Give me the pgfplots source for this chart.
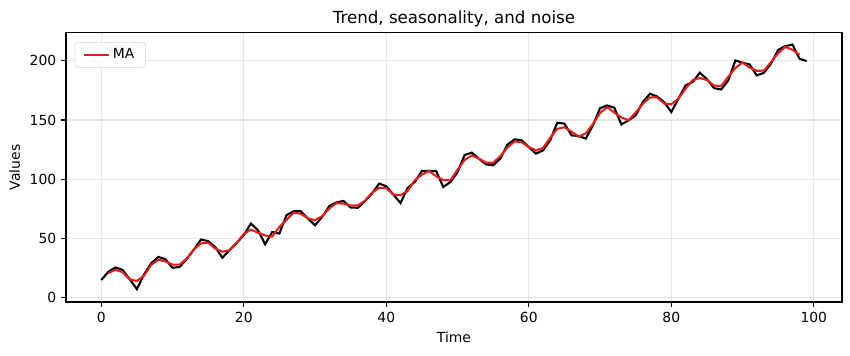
\documentclass[border=0pt]{standalone}
\usepackage{pgfplots}
\pgfplotsset{compat=1.18}
\usepackage{fontspec}
\setmainfont{DejaVu Sans}
\definecolor{mared}{RGB}{225,30,30}
\definecolor{gridc}{RGB}{230,230,230}
\begin{document}
\fontsize{10pt}{12pt}\selectfont
\begin{tikzpicture}
\path[use as bounding box] (0,0) rectangle (612pt,255.6pt);
\begin{axis}[
  at={(47.5pt,38.2pt)}, anchor=south west,
  scale only axis, width=558.7pt, height=193.7pt,
  xmin=-4.95, xmax=103.95, ymin=-3.5, ymax=223.5,
  xtick={0,20,...,100}, ytick={0,50,...,200},
  /pgf/number format/assume math mode=true,
  tick label style={font=\fontsize{10pt}{12pt}\selectfont},
  tick align=outside, tick pos=left, major tick length=3.5pt,
  every tick/.style={black, line width=0.8pt},
  axis line style={line width=0.8pt},
  grid=major, major grid style={gridc, line width=0.8pt},
  title={Trend, seasonality, and noise},
  title style={font=\fontsize{12pt}{14pt}\selectfont, yshift=-5pt},
  xlabel={Time}, ylabel={Values},
  label style={font=\fontsize{10pt}{12pt}\selectfont},
  legend style={font=\fontsize{10pt}{12pt}\selectfont, draw=gray!35, rounded corners=2pt, at={(0.011,0.965)}, anchor=north west, inner xsep=6pt, inner ysep=2.5pt},
  legend image code/.code={\draw[#1] (0pt,0pt) -- (18pt,0pt);},
  legend cell align=left,
]
\addplot[black, line width=1.5pt, forget plot] coordinates {
(0,15)(1,22)(2,25.6)(3,23.5)(4,15.7)(5,7.3)(6,19.7)(7,29)(8,34.5)(9,32.6)
(10,25.3)(11,26.1)(12,32.6)(13,40.7)(14,49.2)(15,47.8)(16,42.8)(17,33.8)(18,40.2)(19,46.3)
(20,52.8)(21,62.6)(22,57)(23,45.2)(24,55.6)(25,54.2)(26,69.7)(27,73)(28,73)(29,66.9)
(30,61.2)(31,68.3)(32,77.3)(33,80.5)(34,81.7)(35,76.1)(36,76)(37,81.5)(38,88)(39,96.4)
(40,94.1)(41,87.1)(42,80)(43,92.7)(44,97.7)(45,107)(46,107)(47,107)(48,93.5)(49,97.7)
(50,106)(51,120.5)(52,122.5)(53,117.4)(54,112.6)(55,111.8)(56,117.4)(57,129.2)(58,133.7)(59,132.9)
(60,127.2)(61,121.6)(62,124.4)(63,133)(64,147.7)(65,147)(66,137)(67,136.6)(68,134.3)(69,145.5)
(70,160)(71,162.3)(72,160.4)(73,146.3)(74,149.7)(75,153.9)(76,165.1)(77,172.2)(78,169.9)(79,165.1)
(80,156.7)(81,168)(82,179.2)(83,182)(84,189.9)(85,184.5)(86,176.9)(87,175.8)(88,183.4)(89,200.3)
(90,198.3)(91,196.9)(92,187.6)(93,189.9)(94,197.7)(95,209.2)(96,212.3)(97,213.7)(98,201.7)(99,199.7)
};
\addplot[mared, line width=1.5pt] coordinates {
(1,20.87)(2,23.7)(3,21.6)(4,15.5)(5,14.23)(6,18.67)(7,27.73)(8,32.03)(9,30.8)
(10,28)(11,28)(12,33.13)(13,40.83)(14,45.9)(15,46.6)(16,41.47)(17,38.93)(18,40.1)(19,46.43)
(20,53.9)(21,57.47)(22,54.93)(23,52.6)(24,51.67)(25,59.83)(26,65.63)(27,71.9)(28,70.97)(29,67.03)
(30,65.47)(31,68.93)(32,75.37)(33,79.83)(34,79.43)(35,77.93)(36,77.87)(37,81.83)(38,88.63)(39,92.83)
(40,92.53)(41,87.07)(42,86.6)(43,90.13)(44,99.13)(45,103.9)(46,107)(47,102.5)(48,99.4)(49,99.07)
(50,108.07)(51,116.33)(52,120.13)(53,117.5)(54,113.93)(55,113.93)(56,119.47)(57,126.77)(58,131.93)(59,131.27)
(60,127.23)(61,124.4)(62,126.33)(63,135.03)(64,142.57)(65,143.9)(66,140.2)(67,135.97)(68,138.8)(69,146.6)
(70,155.93)(71,160.9)(72,156.33)(73,152.13)(74,149.97)(75,156.23)(76,163.73)(77,169.07)(78,169.07)(79,163.9)
(80,163.27)(81,167.97)(82,176.4)(83,183.7)(84,185.47)(85,183.77)(86,179.07)(87,178.7)(88,186.5)(89,194)
(90,198.5)(91,194.27)(92,191.47)(93,191.73)(94,198.93)(95,206.4)(96,211.73)(97,209.23)(98,205.03)
};
\addlegendentry{MA}
\end{axis}
\end{tikzpicture}
\end{document}
